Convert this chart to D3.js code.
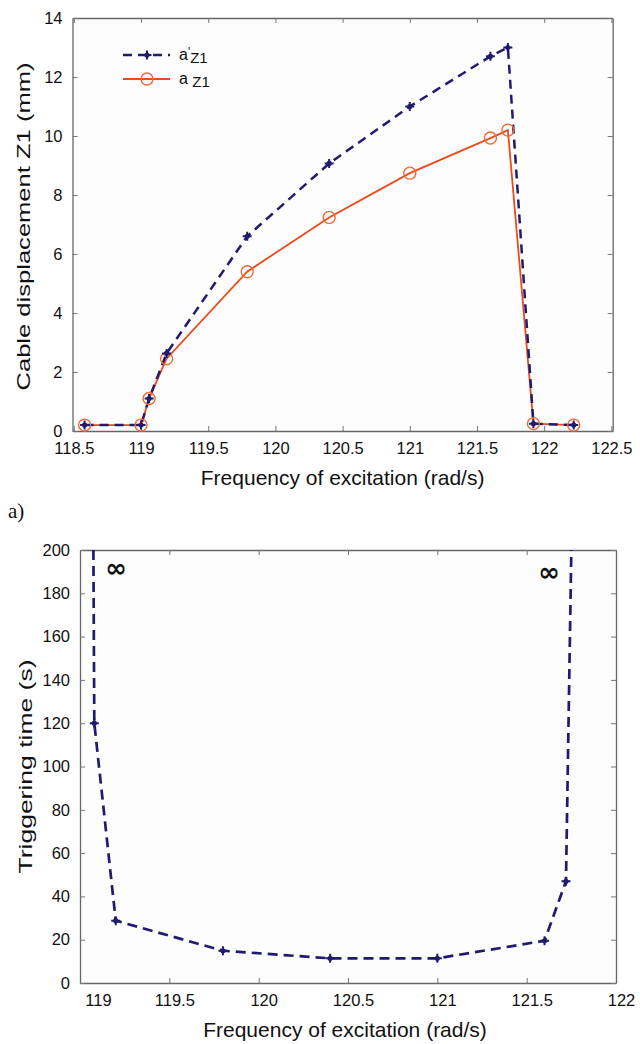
<!DOCTYPE html>
<html>
<head>
<meta charset="utf-8">
<script src="https://cdn.jsdelivr.net/npm/d3@7"></script>
<style>
  body { margin: 0; background: #fff; }
  svg { display: block; font-family: "Liberation Sans", Arial, sans-serif; }
  .tick text { font-size: 16.5px; fill: #111; }
</style>
</head>
<body>
<div id="container"></div>
<script>
// ---- data (a): cable displacement vs excitation frequency
const freqA = [118.58, 119.0, 119.06, 119.19, 119.79, 120.4, 121.0, 121.6, 121.73, 121.92, 122.22];
const dispDashed = [0.2, 0.2, 1.1, 2.63, 6.6, 9.07, 11.0, 12.7, 13.0, 0.25, 0.2];   // a'Z1
const dispSolid = [0.2, 0.2, 1.1, 2.45, 5.4, 7.24, 8.74, 9.93, 10.2, 0.25, 0.2];    // aZ1
const ticksXA = [118.5, 119, 119.5, 120, 120.5, 121, 121.5, 122, 122.5];
const ticksYA = [0, 2, 4, 6, 8, 10, 12, 14];

// ---- data (b): triggering time vs excitation frequency
// first and last entries are the asymptotes (infinite time) running off the top
const freqB = [119.075, 119.08, 119.2, 119.8, 120.4, 121.0, 121.6, 121.72, 121.75];
const trigTime = [200, 120, 28.8, 14.9, 11.4, 11.4, 19.5, 47, 200];
const isAsymptote = [true, false, false, false, false, false, false, false, true];
const ticksXB = [119, 119.5, 120, 120.5, 121, 121.5, 122];
const ticksYB = [0, 20, 40, 60, 80, 100, 120, 140, 160, 180, 200];

const navy = '#201b6c';
const orange = '#ec4a1c';
const W = 640, H = 1044;

const svg = d3.select('#container').append('svg')
    .attr('width', W)
    .attr('height', H);

// draws a Matlab style box with inward ticks on all 4 sides
function frame(g, x, y, tx, ty, fmtX) {
    const [x0, x1] = x.range();
    const [y0, y1] = y.range();
    g.append('rect')
        .attr('x', x0).attr('y', y1)
        .attr('width', x1 - x0).attr('height', y0 - y1)
        .attr('fill', '#fdfdfd');

    const ax = g.append('g').attr('transform', `translate(0,${y0})`)
        .call(d3.axisBottom(x).tickValues(tx).tickSizeInner(-5).tickSizeOuter(0).tickPadding(11).tickFormat(fmtX));
    const ax2 = g.append('g').attr('transform', `translate(0,${y1})`)
        .call(d3.axisTop(x).tickValues(tx).tickSizeInner(-5).tickSizeOuter(0).tickFormat(''));
    const ay = g.append('g').attr('transform', `translate(${x0},0)`)
        .call(d3.axisLeft(y).tickValues(ty).tickSizeInner(-5).tickSizeOuter(0).tickPadding(10));
    const ay2 = g.append('g').attr('transform', `translate(${x1},0)`)
        .call(d3.axisRight(y).tickValues(ty).tickSizeInner(-5).tickSizeOuter(0).tickFormat(''));

    [ax, ax2, ay, ay2].forEach(a => {
        a.select('.domain').attr('stroke', '#666').attr('stroke-width', 1.3);
        a.selectAll('.tick line').attr('stroke', '#777');
    });
    return { ax, ay };
}

function starMarks(g, pts) {
    const m = g.selectAll(null).data(pts).enter().append('g')
        .attr('transform', d => `translate(${d[0]},${d[1]})`);
    m.append('path').attr('d', 'M-4.5,0H4.5M0,-4.5V4.5')
        .attr('stroke', navy).attr('stroke-width', 2);
    m.append('circle').attr('r', 2.6).attr('fill', navy);
}

// ================= (a) =================
const xA = d3.scaleLinear().domain([118.49, 122.51]).range([72.5, 612.7]);
const yA = d3.scaleLinear().domain([0, 14]).range([431, 18]);
const gA = svg.append('g');
frame(gA, xA, yA, ticksXA, ticksYA, d => d);

const line = d3.line();
const ptsDash = freqA.map((f, i) => [xA(f), yA(dispDashed[i])]);
const ptsSolid = freqA.map((f, i) => [xA(f), yA(dispSolid[i])]);

gA.append('path').attr('d', line(ptsSolid))
    .attr('fill', 'none').attr('stroke', orange).attr('stroke-width', 1.8);
gA.append('path').attr('d', line(ptsDash))
    .attr('fill', 'none').attr('stroke', navy).attr('stroke-width', 2.5)
    .attr('stroke-dasharray', '9,6');
gA.selectAll('circle.o').data(ptsSolid).enter().append('circle')
    .attr('class', 'o')
    .attr('cx', d => d[0]).attr('cy', d => d[1]).attr('r', 6)
    .attr('fill', 'none').attr('stroke', '#f06a35').attr('stroke-width', 1.4);
starMarks(gA, ptsDash);

// legend
const leg = gA.append('g').attr('transform', 'translate(123,55)');
leg.append('line').attr('x1', 0).attr('x2', 47)
    .attr('stroke', navy).attr('stroke-width', 2.5).attr('stroke-dasharray', '9,6');
starMarks(leg, [[24, 0]]);
leg.append('line').attr('x1', 0).attr('x2', 47).attr('y1', 24).attr('y2', 24)
    .attr('stroke', orange).attr('stroke-width', 1.8);
leg.append('circle').attr('cx', 24).attr('cy', 24).attr('r', 6)
    .attr('fill', 'none').attr('stroke', '#f06a35').attr('stroke-width', 1.4);
const t1 = leg.append('text').attr('x', 56).attr('y', 5).attr('font-size', 16).attr('fill', '#111');
t1.append('tspan').text('a');
t1.append('tspan').attr('dy', -4).attr('font-size', 12).text('\'');
t1.append('tspan').attr('dy', 7).attr('font-size', 15).text('Z1');
const t2 = leg.append('text').attr('x', 56).attr('y', 29).attr('font-size', 16).attr('fill', '#111');
t2.append('tspan').text('a ');
t2.append('tspan').attr('dy', 3).attr('font-size', 15).text('Z1');

svg.append('text')
    .attr('transform', `translate(30,${(yA.range()[0] + yA.range()[1]) / 2 + 2}) rotate(-90)`)
    .attr('text-anchor', 'middle').attr('font-size', 19).attr('fill', '#111')
    .attr('textLength', 328).attr('lengthAdjust', 'spacingAndGlyphs')
    .text('Cable displacement Z1 (mm)');
svg.append('text')
    .attr('x', (xA.range()[0] + xA.range()[1]) / 2).attr('y', 485)
    .attr('text-anchor', 'middle').attr('font-size', 21).attr('fill', '#111')
    .text('Frequency of excitation (rad/s)');
svg.append('text')
    .attr('x', 8).attr('y', 518)
    .attr('font-family', '"Liberation Serif", "Times New Roman", serif')
    .attr('font-size', 21).attr('fill', '#111')
    .text('a)');

// ================= (b) =================
const xB = d3.scaleLinear().domain([119, 122]).range([80, 616]);
const yB = d3.scaleLinear().domain([0, 200]).range([983, 550]);
const gB = svg.append('g');
const axB = frame(gB, xB, yB, ticksXB, ticksYB, d => d);
axB.ax.selectAll('.tick text').attr('dx', 5);
axB.ax.selectAll('.tick text').filter(d => d === 119).attr('dx', 18);

svg.append('clipPath').attr('id', 'clipB').append('rect')
    .attr('x', 80).attr('y', 550).attr('width', 536).attr('height', 433);

const ptsB = freqB.map((f, i) => [xB(f), yB(trigTime[i])]);
gB.append('path').attr('d', line(ptsB))
    .attr('clip-path', 'url(#clipB)')
    .attr('fill', 'none').attr('stroke', navy).attr('stroke-width', 2.7)
    .attr('stroke-dasharray', '10,6');
starMarks(gB, ptsB.filter((d, i) => !isAsymptote[i]));

// infinity marks next to the asymptotes
[[116, 568], [549, 572]].forEach(p => {
    svg.append('text')
        .attr('x', p[0]).attr('y', p[1])
        .attr('text-anchor', 'middle').attr('dy', '0.35em')
        .attr('font-family', '"DejaVu Sans", sans-serif')
        .attr('font-size', 26).attr('font-weight', 'bold').attr('fill', '#111')
        .text('∞');
});

svg.append('text')
    .attr('transform', `translate(32,${(yB.range()[0] + yB.range()[1]) / 2}) rotate(-90)`)
    .attr('text-anchor', 'middle').attr('font-size', 19).attr('fill', '#111')
    .attr('textLength', 214).attr('lengthAdjust', 'spacingAndGlyphs')
    .text('Triggering time (s)');
svg.append('text')
    .attr('x', 345).attr('y', 1037)
    .attr('text-anchor', 'middle').attr('font-size', 21).attr('fill', '#111')
    .text('Frequency of excitation (rad/s)');
</script>
</body>
</html>
